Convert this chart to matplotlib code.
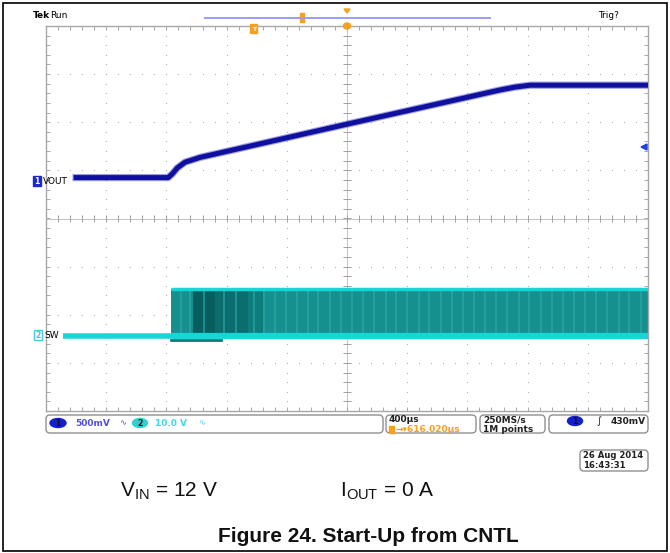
import matplotlib.pyplot as plt
from matplotlib.patches import FancyBboxPatch, Rectangle, Ellipse, Polygon
import numpy as np

# scope screen in divisions: time 0..10, volts -4..4
vout_t = [0.50, 2.03, 2.10, 2.18, 2.31, 2.56, 5.00, 7.54, 7.79, 8.04, 10.0]
vout_v = [0.85, 0.85, 0.93, 1.05, 1.17, 1.27, 1.96, 2.67, 2.73, 2.77, 2.77]

sw_idle_t = [0.28, 2.07]
sw_idle_v = [-2.44, -2.44]
sw_run_t = [2.07, 10.0]
sw_high = -1.47
sw_low = -2.44
sw_dark = [(2.45, 2.80, '#075e5e'), (2.80, 3.35, '#0b6d6d'), (3.35, 3.60, '#0f7c7c')]
sw_stripes = [2.25, 2.40, 2.62, 2.95, 3.15, 3.45, 3.62, 3.80, 3.98, 4.17, 4.35,
              4.52, 4.71, 4.90, 5.08, 5.27, 5.45, 5.64, 5.82, 6.00, 6.19, 6.37,
              6.56, 6.74, 6.92, 7.11, 7.29, 7.48, 7.66, 7.85, 8.03, 8.22, 8.40,
              8.59, 8.77, 8.95, 9.14, 9.32, 9.51, 9.69, 9.88]

ch1_scale = '500mV'
ch2_scale = '10.0 V'
time_scale = '400µs'
trig_pos = '616.020µs'
sample_rate = ['250MS/s', '1M points']
trig_level = '430mV'
date_lines = ['26 Aug 2014', '16:43:31']

BLUE = '#10109e'
CYAN = '#19d6d6'
TEAL = '#168f8f'
ORANGE = '#f5a020'

W, H = 670, 553
fig = plt.figure(figsize=(W / 100, H / 100), dpi=100)

# graticule area in pixels
gl, gr, gt, gb = 46, 648, 26, 411
ax = fig.add_axes([gl / W, 1 - gb / H, (gr - gl) / W, (gb - gt) / H])
ax.set_xlim(0, 10)
ax.set_ylim(-4, 4)
ax.set_xticks([])
ax.set_yticks([])
for s in ax.spines.values():
    s.set_color('#a8a8a8')
    s.set_linewidth(1.0)

# grid dots
fine_x = np.arange(0, 10.01, 0.2)
fine_y = np.arange(-4, 4.01, 0.2)
for gx in range(1, 10):
    if gx != 5:
        ax.scatter(np.full_like(fine_y, gx), fine_y, s=0.8, color='#b0b0b0', lw=0, zorder=1)
for gy in range(-3, 4):
    if gy != 0:
        ax.scatter(fine_x, np.full_like(fine_x, gy), s=0.8, color='#b0b0b0', lw=0, zorder=1)

# center cross with ticks
ax.axhline(0, color='#c8c8c8', lw=0.8, zorder=1)
ax.axvline(5, color='#c8c8c8', lw=0.8, zorder=1)
ax.vlines(fine_x, -0.07, 0.07, color='#a0a0a0', lw=0.7, zorder=1)
ax.hlines(fine_y, 4.93, 5.07, color='#a0a0a0', lw=0.7, zorder=1)
# border ticks
ax.vlines(fine_x, 4 - 0.08, 4, color='#a8a8a8', lw=0.7, zorder=1)
ax.vlines(fine_x, -4, -4 + 0.08, color='#a8a8a8', lw=0.7, zorder=1)
ax.hlines(fine_y, 0, 0.06, color='#a8a8a8', lw=0.7, zorder=1)
ax.hlines(fine_y, 10 - 0.06, 10, color='#a8a8a8', lw=0.7, zorder=1)

# SW trace (channel 2)
ax.plot(sw_idle_t, sw_idle_v, color=CYAN, lw=4.0, solid_capstyle='butt', zorder=3)
ax.fill_between(sw_run_t, sw_low, sw_high, color=TEAL, lw=0, zorder=2)
for a, b, c in sw_dark:
    ax.fill_between([a, b], sw_low, sw_high, color=c, lw=0, zorder=2)
ax.vlines(sw_stripes, sw_low, sw_high, color='#30acac', lw=1.1, alpha=0.75, zorder=2)
ax.plot(sw_run_t, [sw_high, sw_high], color=CYAN, lw=2.5, solid_capstyle='butt', zorder=3)
ax.plot(sw_run_t, [sw_low, sw_low], color=CYAN, lw=4.5, solid_capstyle='butt', zorder=3)
ax.plot([2.07, 2.9], [sw_low - 0.08, sw_low - 0.08], color='#0b7a7a', lw=2, zorder=2)

# VOUT trace (channel 1)
ax.plot(vout_t, vout_v, color='#3c3cc8', lw=5.2, solid_joinstyle='round', alpha=0.5, zorder=4)
ax.plot(vout_t, vout_v, color=BLUE, lw=3.6, solid_joinstyle='round', zorder=4)

# overlay in pixel coordinates
ov = fig.add_axes([0, 0, 1, 1], facecolor='none')
ov.set_xlim(0, W)
ov.set_ylim(H, 0)
ov.axis('off')

ov.add_patch(Rectangle((3, 3), W - 6, H - 5, fill=False, ec='black', lw=1.2))

tek = dict(family='DejaVu Sans', fontsize=6.5, va='center')
ov.text(33, 15, 'Tek', fontweight='bold', **tek)
ov.text(50, 15, 'Run', **tek)
ov.text(598, 15, 'Trig?', **tek)

# record bar and trigger markers
ov.plot([205, 490], [18, 18], color='#9c9cf6', lw=1.4)
ov.add_patch(Rectangle((300, 13), 4, 9, color=ORANGE))
ov.add_patch(Polygon([[344, 9], [350, 9], [347, 13]], color=ORANGE))
ov.add_patch(Ellipse((347, 26), 7, 6, color=ORANGE))
ov.add_patch(FancyBboxPatch((251, 25), 6, 8, boxstyle='round,pad=0.5', color=ORANGE))
ov.text(254, 29.5, 'T', color='white', fontsize=4.5, ha='center', va='center', fontweight='bold')
ov.add_patch(Polygon([[641, 147], [647, 144], [647, 150]], color='#2040e0'))

# channel markers
ov.add_patch(Rectangle((33, 176), 8, 10, color='#1a2ad0'))
ov.text(37, 181, '1', color='white', fontsize=5.5, ha='center', va='center', fontweight='bold')
ov.text(43, 181, 'VOUT', color='black', fontsize=6.5, va='center', family='DejaVu Sans')
ov.add_patch(Rectangle((34, 330), 8, 10, fill=False, ec='#40d0e0', lw=1))
ov.text(38, 335, '2', color='#40c0e0', fontsize=5.5, ha='center', va='center', fontweight='bold')
ov.text(44, 335, 'SW', color='black', fontsize=6.5, va='center', family='DejaVu Sans')

# status boxes
def box(x0, x1, y0=415, y1=433):
    ov.add_patch(FancyBboxPatch((x0, y0), x1 - x0, y1 - y0, boxstyle='round,pad=0,rounding_size=4',
                                fill=False, ec='#909090', lw=1.0))

st = dict(family='DejaVu Sans', fontsize=6.5, va='center', fontweight='bold')
box(46, 383)
ov.add_patch(Ellipse((58, 423), 16, 9, color='#1020d0'))
ov.text(58, 423, '1', color='#101010', fontsize=5.5, ha='center', va='center', fontweight='bold')
ov.text(75, 423, ch1_scale, color='#5050e0', **st)
ov.text(119, 423, '∿', color='#5050e0', fontsize=6, va='center')
ov.add_patch(Ellipse((140, 423), 15, 9, color='#30d0d0'))
ov.text(140, 423, '2', color='#101010', fontsize=5.5, ha='center', va='center', fontweight='bold')
ov.text(155, 423, ch2_scale, color='#40d8e8', **st)
ov.text(198, 423, '∿', color='#40d8e8', fontsize=6, va='center')

box(386, 476)
ov.text(389, 420, time_scale, color='#202020', **st)
ov.add_patch(Rectangle((389, 426), 5, 7, color=ORANGE))
ov.text(396, 430, '→▾' + trig_pos, color=ORANGE, **st)

box(480, 545)
ov.text(483, 420, sample_rate[0], color='#202020', **st)
ov.text(483, 430, sample_rate[1], color='#202020', **st)

box(549, 648)
ov.add_patch(Ellipse((575, 421), 15, 9, color='#1020d0'))
ov.text(575, 421, '1', color='#101010', fontsize=5.5, ha='center', va='center', fontweight='bold')
ov.text(596, 421, '∫', color='#202020', fontsize=7, va='center', style='italic')
ov.text(646, 421, trig_level, color='#202020', ha='right', **st)

box(580, 648, 450, 471)
dt = dict(st, fontsize=6.1)
ov.text(583, 455, date_lines[0], color='#202020', **dt)
ov.text(583, 465, date_lines[1], color='#202020', **dt)

# caption text
plt.rcParams['mathtext.fontset'] = 'custom'
plt.rcParams['mathtext.rm'] = 'Liberation Sans'
cap = dict(family='Liberation Sans', fontsize=15, va='center', color='#111111')
ov.text(120, 491, r'V$_{\mathrm{IN}}$ = 12 V', **cap)
ov.text(340, 491, r'I$_{\mathrm{OUT}}$ = 0 A', **cap)
ov.text(368, 537, 'Figure 24. Start-Up from CNTL', family='Liberation Sans', fontsize=15,
        fontweight='bold', ha='center', va='center', color='#111111')

fig.savefig('out.png', dpi=100)
